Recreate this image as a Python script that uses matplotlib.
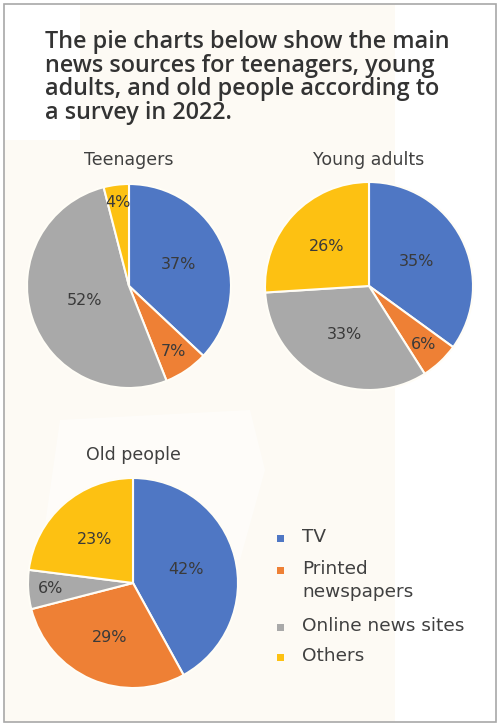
import matplotlib.pyplot as plt
from matplotlib.patches import Rectangle, Polygon
import numpy as np

## data
categories = ["TV", "Printed\nnewspapers", "Online news sites", "Others"]
colors = ["#4F77C4", "#EE8035", "#A9A9A9", "#FDC112"]
groups = ["Teenagers", "Young adults", "Old people"]
teen = [37, 7, 52, 4]
young = [35, 6, 33, 26]
old = [42, 29, 6, 23]
## how far from the centre each percentage sits (fraction of radius)
teen_pos = [0.53, 0.78, 0.46, 0.83]
young_pos = [0.51, 0.77, 0.52, 0.56]
old_pos = [0.52, 0.57, 0.79, 0.55]

W, H = 502, 727
fig = plt.figure(figsize=(W / 100, H / 100), dpi=100)
fig.patch.set_facecolor("white")

##faint cream shapes in the background
bg = fig.add_axes([0, 0, 1, 1])
bg.set_xlim(0, W)
bg.set_ylim(H, 0)
bg.axis("off")
bg.add_patch(Polygon([[80, 4], [395, 4], [395, 722], [4, 722], [4, 140], [80, 140]],
                     closed=True, color="#FBF6E8", alpha=0.45, lw=0))
bg.add_patch(Polygon([[60, 420], [250, 410], [265, 470], [240, 560], [40, 560]],
                     closed=True, color="white", alpha=0.5, lw=0))
bg.add_patch(Rectangle((4, 4), 492, 718, fill=False, ec="#A8A8A8", lw=1.2))

##title, one line at a time
title = ["The pie charts below show the main",
         "news sources for teenagers, young",
         "adults, and old people according to",
         "a survey in 2022."]
for i, line in enumerate(title):
    fig.text(45 / W, 1 - (42 + i * 23.7) / H, line, fontsize=16.8, fontweight="semibold",
             family="Open Sans", color="#333333", va="center", ha="left")

def pie(cx, cy, r, vals, pos, name, ty):
    ax = fig.add_axes([(cx - r) / W, (H - cy - r) / H, 2 * r / W, 2 * r / H])
    wedges, _ = ax.pie(vals, colors=colors, startangle=90, counterclock=False,
                       radius=1, wedgeprops=dict(edgecolor="#FFFDF6", linewidth=1.5))
    for w, v, p in zip(wedges, vals, pos):
        a = np.deg2rad((w.theta1 + w.theta2) / 2)
        ax.text(p * np.cos(a), p * np.sin(a), "%d%%" % v, ha="center", va="center",
                fontsize=11.5, family="DejaVu Sans", color="#3A3A3A")
    ax.set_xlim(-1, 1)
    ax.set_ylim(-1, 1)
    ax.set_aspect("equal")
    fig.text(cx / W, 1 - ty / H, name, ha="center", va="center", fontsize=12.5,
             family="DejaVu Sans", color="#404040")

pie(129, 286, 102, teen, teen_pos, groups[0], 160)
pie(369, 286, 104, young, young_pos, groups[1], 160)
pie(133, 583, 105, old, old_pos, groups[2], 455)

##legend drawn by hand
leg_y = [538, 570, 627, 657]
for c, lab, y in zip(colors, categories, leg_y):
    bg.add_patch(Rectangle((277, y - 3.5), 7, 7, color=c, lw=0))
    bg.text(302, y - 10, lab, ha="left", va="top", fontsize=13.3,
            family="DejaVu Sans", color="#404040", linespacing=1.35)

fig.savefig("out.png", dpi=100)
